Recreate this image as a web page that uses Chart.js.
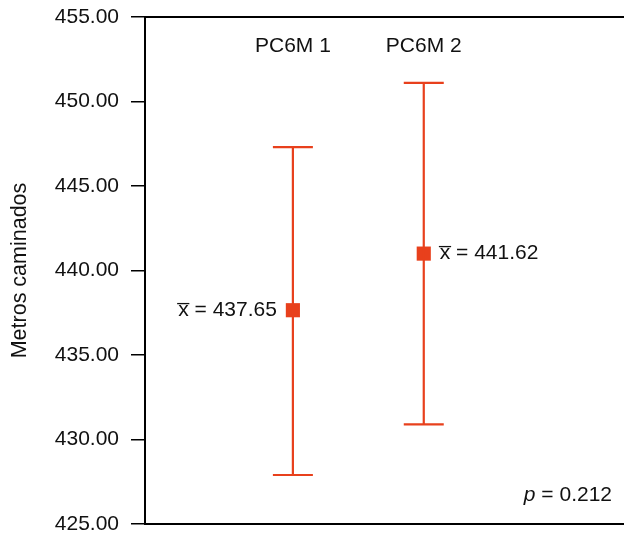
<!DOCTYPE html>
<html><head><meta charset="utf-8">
<script src="https://cdn.jsdelivr.net/npm/chart.js@4"></script>
<style>html,body{margin:0;padding:0;background:#fff;overflow:hidden}canvas{display:block}</style>
</head><body><canvas id="c" width="624" height="534" style="width:624px;height:534px"></canvas>
<script>
const categories = ["PC6M 1", "PC6M 2"];
const xPos = [1, 2];
const means = [437.65, 441.0];
const meanLabels = ["x\u0305 = 437.65", "x\u0305 = 441.62"];
const lower = [427.9, 430.9];
const upper = [447.3, 451.1];
const yTicks = [425, 430, 435, 440, 445, 450, 455];
const pText = "0.212";
const RED = "#E8401C";
const FONT = "'Liberation Sans', Arial, sans-serif";

const overlay = {
  id: "overlay",
  afterDatasetsDraw(chart) {
    const {ctx, chartArea: a, scales: {x, y}} = chart;
    ctx.save();
    ctx.strokeStyle = "#000"; ctx.lineWidth = 2;
    ctx.beginPath(); ctx.moveTo(a.left - 1, a.top); ctx.lineTo(chart.width, a.top); ctx.stroke();
    ctx.strokeStyle = RED; ctx.lineWidth = 2.2;
    for (let i = 0; i < xPos.length; i++) {
      const px = x.getPixelForValue(xPos[i]);
      const yl = y.getPixelForValue(lower[i]);
      const yh = y.getPixelForValue(upper[i]);
      ctx.beginPath();
      ctx.moveTo(px, yl); ctx.lineTo(px, yh);
      ctx.moveTo(px - 20, yl); ctx.lineTo(px + 20, yl);
      ctx.moveTo(px - 20, yh); ctx.lineTo(px + 20, yh);
      ctx.stroke();
    }
    ctx.fillStyle = "#111"; ctx.font = "21px " + FONT;
    ctx.textAlign = "center"; ctx.textBaseline = "middle";
    for (let i = 0; i < categories.length; i++) {
      ctx.fillText(categories[i], x.getPixelForValue(xPos[i]), y.getPixelForValue(453.3));
    }
    for (let i = 0; i < meanLabels.length; i++) {
      const px = x.getPixelForValue(xPos[i]);
      const py = y.getPixelForValue(means[i]);
      if (i === 0) { ctx.textAlign = "right"; ctx.fillText(meanLabels[i], px - 16, py); }
      else { ctx.textAlign = "left"; ctx.fillText(meanLabels[i], px + 16, py); }
    }
    ctx.textAlign = "right";
    const py = y.getPixelForValue(426.7);
    const rest = " = " + pText;
    const rx = 612;
    ctx.fillText(rest, rx, py);
    const w = ctx.measureText(rest).width;
    ctx.font = "italic 21px " + FONT;
    ctx.fillText("p", rx - w, py);
    ctx.font = "21.5px " + FONT;
    ctx.textAlign = "center";
    ctx.translate(20, (a.top + a.bottom) / 2);
    ctx.rotate(-Math.PI / 2);
    ctx.fillText("Metros caminados", 0, 0);
    ctx.restore();
  }
};

function noPad(s) { s.paddingTop = 0; s.paddingBottom = 0; s.paddingLeft = 0; s.paddingRight = 0; }

new Chart(document.getElementById("c"), {
  type: "scatter",
  data: {
    datasets: [{
      data: xPos.map((v, i) => ({x: v, y: means[i]})),
      pointStyle: "rect",
      radius: 10, hoverRadius: 10,
      backgroundColor: RED, borderColor: RED, borderWidth: 0
    }]
  },
  options: {
    responsive: false, maintainAspectRatio: false, animation: false, devicePixelRatio: 1,
    layout: {padding: {top: 17, left: 0, right: 0, bottom: 0}, autoPadding: false},
    plugins: {legend: {display: false}, tooltip: {enabled: false}},
    scales: {
      x: {
        type: "linear", min: -0.13, max: 3.53,
        ticks: {display: false},
        grid: {display: false, drawTicks: false},
        border: {display: true, color: "#000", width: 2},
        afterFit(s) { s.height = 10; noPad(s); }
      },
      y: {
        min: 425, max: 455,
        afterBuildTicks(s) { s.ticks = yTicks.map(v => ({value: v})); },
        ticks: {
          callback: v => Number(v).toFixed(2),
          font: {size: 21, family: FONT}, color: "#111", padding: 12
        },
        grid: {drawOnChartArea: false, tickLength: 14, color: "#000", lineWidth: 1.5},
        border: {display: true, color: "#000", width: 2},
        afterFit(s) { s.width = 145; noPad(s); }
      }
    }
  },
  plugins: [overlay]
});
</script>
</body></html>
